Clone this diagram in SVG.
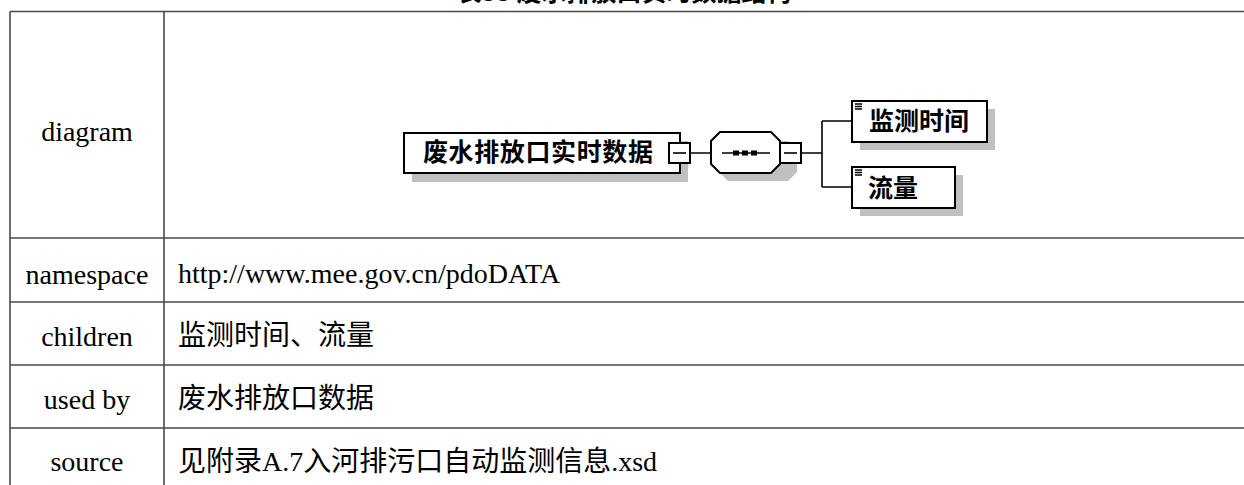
<svg xmlns="http://www.w3.org/2000/svg" width="1244" height="485" viewBox="0 0 1244 485">
<style>
.grid{stroke:#4a4a4a;stroke-width:1.6;fill:none}
.lbl{font-family:"Liberation Serif","Noto Sans CJK SC",serif;font-size:28px;fill:#000}
.c{text-anchor:middle}
.box{fill:#fff;stroke:#000;stroke-width:2}
.shadow{fill:#c0c0c0}
.btxt{font-family:"Noto Sans CJK SC","Noto Sans CJK JP",sans-serif;font-weight:bold;font-size:25px;fill:#000}
.conn{stroke:#000;stroke-width:1.6;fill:none}
.title{font-family:"Noto Sans CJK SC",sans-serif;font-weight:bold;font-size:25px;fill:#000;text-anchor:middle}
</style>
<rect width="1244" height="485" fill="#fff"/>
<text class="title" x="624" y="1">表33 废水排放口实时数据结构</text>
<g id="table">
<path class="grid" d="M10 11.5H1244M10 238H1244M10 302H1244M10 365H1244M10 428H1244M10 11.5V485M164 11.5V485"/>
</g>
<g id="labels">
<text class="lbl c" x="87" y="141">diagram</text>
<text class="lbl c" x="87" y="284">namespace</text>
<text class="lbl c" x="87" y="346">children</text>
<text class="lbl c" x="87" y="409">used by</text>
<text class="lbl c" x="87" y="471">source</text>
<text class="lbl" x="178" y="283">http://www.mee.gov.cn/pdoDATA</text>
<text class="lbl" x="178" y="345">监测时间、流量</text>
<text class="lbl" x="178" y="408">废水排放口数据</text>
<text class="lbl" x="178" y="471">见附录A.7入河排污口自动监测信息.xsd</text>
</g>
<g id="connectors">
<path class="conn" d="M690 153H711M801 153H822M822 121V187M822 121H852M822 187H852"/>
</g>
<g id="node-root">
<rect class="shadow" x="412" y="141" width="276" height="41"/>
<rect class="box" x="404" y="133" width="276" height="40"/>
<text class="btxt" x="423" y="161" textLength="230" lengthAdjust="spacing">废水排放口实时数据</text>
<rect class="box" x="669" y="143" width="21" height="20" stroke-width="1.6"/>
<path class="conn" d="M673 153H686"/>
</g>
<g id="node-sequence">
<path class="shadow" d="M720 140H780L789 149V171L780 180H720L711 171V149Z" transform="translate(8,1)"/>
<path class="box" d="M720 132H771L780 141V164L771 173H720L711 164V141Z"/>
<path class="conn" d="M722 153H770"/>
<rect x="733" y="150.5" width="6" height="5" fill="#000"/>
<rect x="742" y="150.5" width="6" height="5" fill="#000"/>
<rect x="751" y="150.5" width="6" height="5" fill="#000"/>
<rect class="box" x="780" y="143" width="21" height="20" stroke-width="1.6"/>
<path class="conn" d="M784 153H797"/>
</g>
<g id="node-time">
<rect class="shadow" x="860" y="109" width="135" height="41"/>
<rect class="box" x="852" y="101" width="135" height="41"/>
<path class="conn" d="M855 104H862M855 106.5H862M855 109H862" stroke-width="1.2"/>
<text class="btxt" x="869" y="130">监测时间</text>
</g>
<g id="node-flow">
<rect class="shadow" x="860" y="175" width="103" height="41"/>
<rect class="box" x="852" y="167" width="103" height="41"/>
<path class="conn" d="M855 170H862M855 172.5H862M855 175H862" stroke-width="1.2"/>
<text class="btxt" x="868" y="197">流量</text>
</g>
</svg>
